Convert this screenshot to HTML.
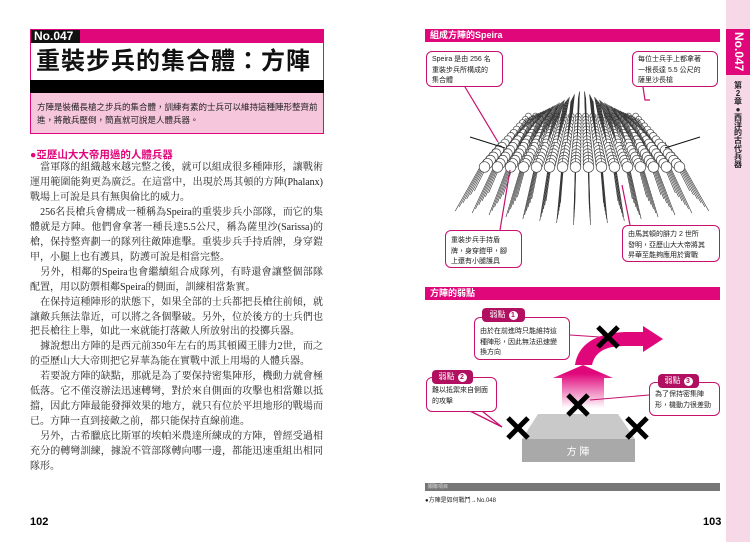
<!DOCTYPE html>
<html><head><meta charset="utf-8"><style>
*{margin:0;padding:0;box-sizing:border-box}
body{width:750px;height:542px;background:#fff;position:relative;overflow:hidden;font-family:"Liberation Sans","Noto Sans CJK TC",sans-serif}
.a{position:absolute}
.ln{position:absolute;left:30px;width:293px;font-family:"Liberation Serif","Noto Serif CJK SC",serif;font-size:10px;line-height:14px;white-space:nowrap;color:#222}
.j{text-align:justify;text-align-last:justify;white-space:normal;height:14px;overflow:hidden}
.bar{position:absolute;left:425px;width:295px;height:13px;background:#e0077b;color:#fff;font-size:9px;font-weight:bold;line-height:13px;padding-left:5px}
.cb{position:absolute;background:#fff;border:1.3px solid #c8106e;border-radius:6px;font-size:7px;line-height:10.5px;color:#222;padding:3px 5px;white-space:nowrap}
.tab{position:absolute;background:#b0105f;color:#fff;border-radius:4px;font-size:8px;line-height:13px;text-align:center}
.tab b{display:inline-block;width:9px;height:9px;border-radius:50%;background:#fff;color:#b0105f;font-size:7px;line-height:9px;margin-left:3px;vertical-align:0}
</style></head><body>
<div class="a" style="left:30px;top:29px;width:294px;height:105px;border:1px solid #e0077b;background:#fff"></div>
<div class="a" style="left:30px;top:29px;width:294px;height:14px;background:#e0077b"></div>
<div class="a" style="left:31px;top:30px;width:49px;height:13px;background:#111;color:#fff;font-weight:bold;font-size:12px;line-height:13px;padding-left:3px">No.047</div>
<div class="a" style="left:36px;top:44px;font-size:24px;letter-spacing:1px;font-weight:bold;line-height:36px;color:#111;white-space:nowrap">重裝步兵的集合體：方陣</div>
<div class="a" style="left:30px;top:80px;width:294px;height:13px;background:#000"></div>
<div class="a" style="left:30px;top:93px;width:294px;height:41px;background:#f5c6dc;border:1px solid #e0077b;border-top:none"></div>
<div class="a" style="left:37px;top:101px;font-size:8.5px;line-height:13px;color:#222">方陣是裝備長槍之步兵的集合體，訓練有素的士兵可以維持這種陣形整齊前<br>進，將敵兵壓倒，簡直就可說是人體兵器。</div>
<div class="a" style="left:30px;top:147px;font-size:10.5px;font-weight:bold;color:#e0077b">●亞歷山大大帝用過的人體兵器</div>
<div id="txt"></div>
<div class="a" style="left:30px;top:516px;font-size:11px;font-weight:bold">102</div>

<div class="a" style="left:726px;top:0;width:24px;height:542px;background:#f7d8e7"></div>
<div class="a" style="left:726px;top:29px;width:24px;height:46px;background:#e0077b"></div>
<div class="a" style="left:728px;top:31px;width:20px;height:42px;"><div style="transform:rotate(90deg);transform-origin:0 0;position:absolute;left:18px;top:1px;color:#fff;font-weight:bold;font-size:12px;white-space:nowrap">No.047</div></div>
<div class="a" style="left:732px;top:82px;width:12px;font-size:8px;line-height:7.9px;font-weight:bold;color:#222;text-align:center">第<br>2<br>章<br>●<br>西<br>洋<br>的<br>古<br>代<br>兵<br>器</div>

<div class="bar" style="top:29px">組成方陣的Speira</div>
<svg class="a" style="left:0;top:0" width="750" height="542" id="ph"></svg>
<div class="cb" style="left:426px;top:51px;width:77px;height:36px">Speira 是由 256 名<br>重裝步兵所構成的<br>集合體</div>
<div class="cb" style="left:632px;top:51px;width:86px;height:36px">每位士兵手上都拿著<br>一根長達 5.5 公尺的<br>薩里沙長槍</div>
<div class="cb" style="left:445px;top:230px;width:77px;height:38px;padding-top:5px">重裝步兵手持盾<br>牌，身穿鎧甲，腳<br>上還有小腿護具</div>
<div class="cb" style="left:622px;top:225px;width:98px;height:37px;padding-top:4px">由馬其頓的腓力 2 世所<br>發明，亞歷山大大帝將其<br>昇華至能夠應用於實戰</div>

<div class="bar" style="top:287px">方陣的弱點</div>
<svg class="a" style="left:0;top:0" width="750" height="542">
<defs><linearGradient id="g" x1="0" y1="1" x2="0" y2="0"><stop offset="0" stop-color="#e0077b" stop-opacity="0"/><stop offset="0.8" stop-color="#e0077b"/></linearGradient></defs>
<polygon points="538,414 618,414 635,439 522,439" fill="#c9c9c9"/>
<rect x="522" y="439" width="113" height="23" fill="#a9a9a9"/>
<text x="578" y="455" fill="#fff" font-size="10" text-anchor="middle">方 陣</text>
<polygon points="562,408 604,408 604,378 613,378 583,365 553,378 562,378" fill="url(#g)"/>
<path d="M575,365 C578,345 595,333 625,332 L645,332 L645,346 L625,346 C605,346 595,352 592,365 Z" fill="#e0077b"/>
<polygon points="643,326 663,339 643,352" fill="#e0077b"/>
<g stroke="#000" stroke-width="5">
<path d="M598,327 L618,347 M618,327 L598,347"/>
<path d="M568,395 L588,415 M588,395 L568,415"/>
<path d="M508,418 L528,438 M528,418 L508,438"/>
<path d="M627,418 L647,438 M647,418 L627,438"/>
</g>
<polyline points="570,335 600,337" stroke="#c8106e" fill="none" stroke-width="1"/>
<polyline points="649,395 590,400" stroke="#c8106e" fill="none" stroke-width="1"/>
<path d="M470,411 L502,427 L482,411" fill="#fff" stroke="#c8106e" stroke-width="1.3"/>
</svg>
<div class="cb" style="left:474px;top:317px;width:96px;height:43px;padding-top:9px">由於在前進時只能維持這<br>種陣形，因此無法迅速變<br>換方向</div>
<div class="tab" style="left:482px;top:308px;width:43px;height:14px">弱點<b>1</b></div>
<div class="cb" style="left:426px;top:377px;width:71px;height:35px;padding-top:8px">難以抵禦來自側面<br>的攻擊</div>
<div class="tab" style="left:432px;top:370px;width:41px;height:14px">弱點<b>2</b></div>
<div class="cb" style="left:649px;top:382px;width:71px;height:34px;padding-top:7px">為了保持密集陣<br>形，機動力很差勁</div>
<div class="tab" style="left:658px;top:374px;width:41px;height:14px">弱點<b>3</b></div>

<div class="a" style="left:425px;top:483px;width:295px;height:8px;background:#777;color:#ddd;font-size:5px;line-height:8px;padding-left:3px">關聯項目</div>
<div class="a" style="left:425px;top:495px;font-size:6px;color:#222">●方陣是如何戰鬥→No.048</div>
<div class="a" style="left:703px;top:516px;font-size:11px;font-weight:bold">103</div>

<script>
var L=[["　當軍隊的組織越來越完整之後，就可以組成很多種陣形，讓戰術的",1],
["運用範圍能夠更為廣泛。在這當中，出現於馬其頓的方陣(Phalanx)在",1],
["戰場上可說是具有無與倫比的威力。",0],
["　256名長槍兵會構成一種稱為Speira的重裝步兵小部隊，而它的集合",1],
["體就是方陣。他們會拿著一種長達5.5公尺，稱為薩里沙(Sarissa)的長",1],
["槍，保持整齊劃一的隊列往敵陣進擊。重裝步兵手持盾牌，身穿鎧",1],
["甲，小腿上也有護具，防護可說是相當完整。",0],
["　另外，相鄰的Speira也會繼續組合成隊列，有時還會讓整個部隊斜向",1],
["配置，用以防禦相鄰Speira的側面，訓練相當紮實。",0],
["　在保持這種陣形的狀態下，如果全部的士兵都把長槍往前傾，就能",1],
["讓敵兵無法靠近，可以將之各個擊破。另外，位於後方的士兵們也會",1],
["把長槍往上舉，如此一來就能打落敵人所放射出的投擲兵器。",0],
["　據說想出方陣的是西元前350年左右的馬其頓國王腓力2世，而之後",1],
["的亞歷山大大帝則把它昇華為能在實戰中派上用場的人體兵器。",0],
["　若要說方陣的缺點，那就是為了要保持密集陣形，機動力就會極端",1],
["低落。它不僅沒辦法迅速轉彎，對於來自側面的攻擊也相當難以抵",1],
["擋，因此方陣最能發揮效果的地方，就只有位於平坦地形的戰場而",1],
["已。方陣一直到接敵之前，都只能保持直線前進。",0],
["　另外，古希臘底比斯軍的埃帕米農達所練成的方陣，曾經受過相當",1],
["充分的轉彎訓練，據說不管部隊轉向哪一邊，都能迅速重組出相同的",1],
["隊形。",0]];
var h="";for(var i=0;i<L.length;i++){h+='<div class="ln'+(L[i][1]?' j':'')+'" style="top:'+(161+i*14.95).toFixed(1)+'px">'+L[i][0]+'</div>';}
document.getElementById("txt").innerHTML=h;
var s="",cx=582;
for(var k=15;k>=0;k--){
 var y=167-k*3.4, f=1-k*0.03, sp=13*f, r=5.3*f;
 for(var i=0;i<16;i++){
  var x=cx+(i-7.5)*sp, d=(i-7.5);
  if(k<6){var ex=cx+d*sp*1.3, ey=226-k*4-Math.abs(d)*2;
   s+='<line x1="'+x+'" y1="'+(y-8)+'" x2="'+ex+'" y2="'+ey+'" stroke="#333" stroke-width="0.6"/>';}
  else{var ex=cx+d*sp*0.7, ey=90+Math.abs(d)*2.8+(15-k)*0.8;
   s+='<line x1="'+x+'" y1="'+(y+8)+'" x2="'+ex+'" y2="'+ey+'" stroke="#333" stroke-width="0.6"/>';}
  s+='<circle cx="'+x+'" cy="'+y+'" r="'+r+'" fill="#fff" stroke="#444" stroke-width="0.7"/>';
 }
}
s+='<line x1="470" y1="137" x2="505" y2="148" stroke="#111"/><line x1="700" y1="137" x2="665" y2="148" stroke="#111"/>';
s+='<g stroke="#c8106e" stroke-width="1.2" fill="none"><polyline points="465,87 498,142"/><polyline points="643,87 645,100 650,100"/><polyline points="500,230 510,170"/><polyline points="630,225 622,185"/></g>';
document.getElementById("ph").innerHTML=s;
</script>
</body></html>
